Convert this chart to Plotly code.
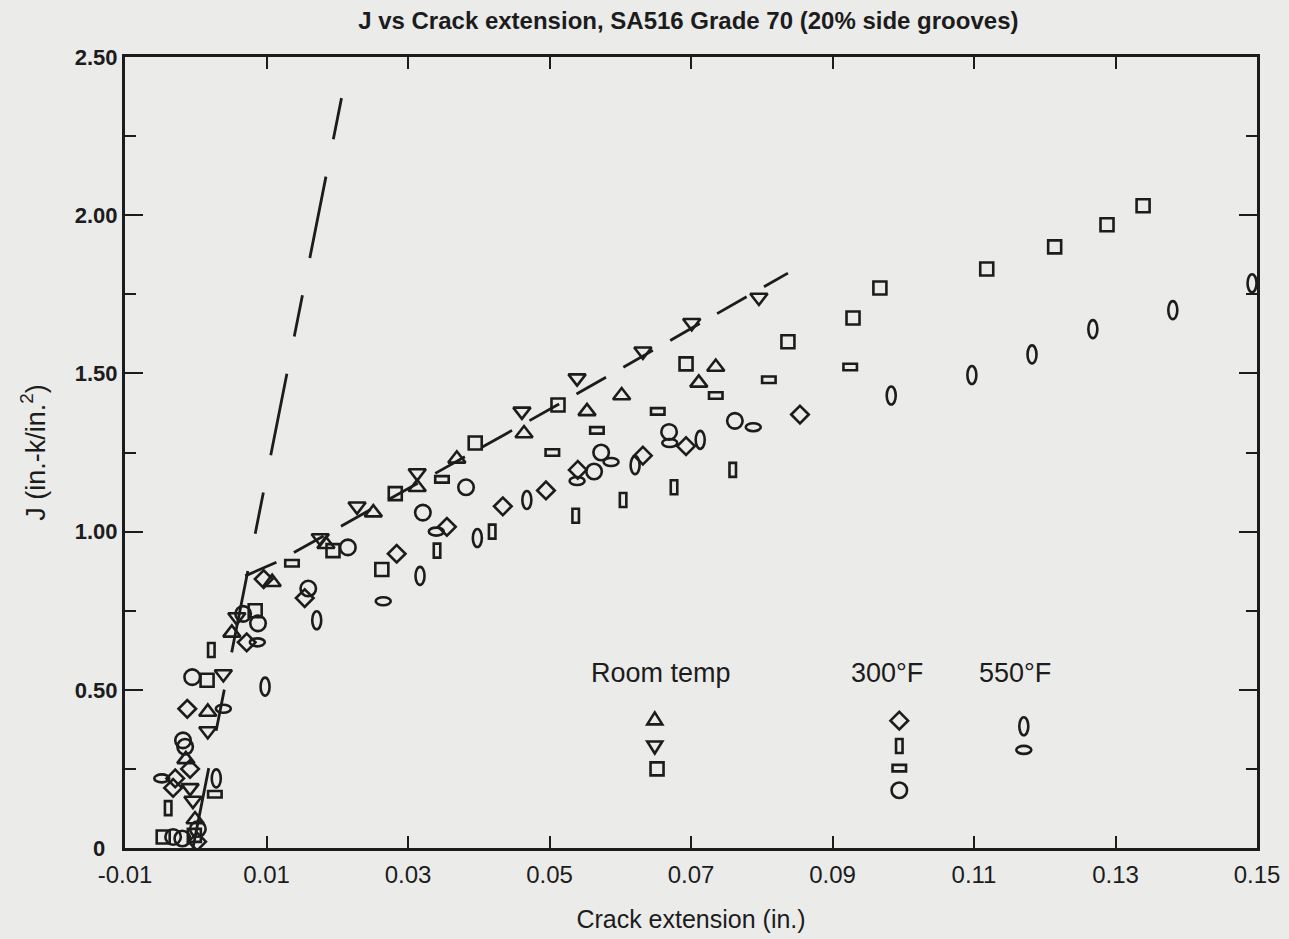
import plotly.graph_objects as go

# ---------------- data: crack extension (in.) and J (in.-k/in.^2) ----------------
# Room temperature
rt_up_x = [-0.0014, -0.0001, 0.0017, 0.0051, 0.0108, 0.0184, 0.0251, 0.0313, 0.0369, 0.0464, 0.0553, 0.0602, 0.0711, 0.0735]
rt_up_j = [0.28, 0.09, 0.43, 0.68, 0.84, 0.96, 1.06, 1.14, 1.23, 1.31, 1.38, 1.43, 1.47, 1.52]

rt_down_x = [-0.0008, -0.0004, 0.0017, 0.0039, 0.0058, 0.0176, 0.0228, 0.0313, 0.0461, 0.0539, 0.0632, 0.0701, 0.0796]
rt_down_j = [0.19, 0.15, 0.37, 0.55, 0.73, 0.98, 1.08, 1.185, 1.38, 1.485, 1.57, 1.66, 1.74]

rt_sq_x = [-0.0046, -0.0002, 0.0016, 0.0084, 0.0194, 0.0263, 0.0282, 0.0395, 0.0512, 0.0693, 0.0837, 0.0929, 0.0967, 0.1118, 0.1214, 0.1288, 0.1339]
rt_sq_j = [0.035, 0.04, 0.53, 0.75, 0.94, 0.88, 1.12, 1.28, 1.40, 1.53, 1.60, 1.675, 1.77, 1.83, 1.90, 1.97, 2.03]

# 300 F
f300_dia_x = [-0.0029, -0.0032, -0.0008, 0.0002, -0.0012, 0.0072, 0.0096, 0.0154, 0.0284, 0.0355, 0.0434, 0.0495, 0.0540, 0.0632, 0.0693, 0.0854]
f300_dia_j = [0.22, 0.19, 0.25, 0.02, 0.44, 0.65, 0.85, 0.79, 0.93, 1.015, 1.08, 1.13, 1.195, 1.24, 1.27, 1.37]

f300_tall_x = [-0.0039, 0.0022, 0.0341, 0.0419, 0.0537, 0.0604, 0.0676, 0.0759]
f300_tall_j = [0.126, 0.626, 0.94, 1.00, 1.05, 1.10, 1.14, 1.195]

f300_flat_x = [0.0027, 0.0136, 0.0348, 0.0504, 0.0567, 0.0653, 0.0735, 0.0810, 0.0925]
f300_flat_j = [0.17, 0.90, 1.165, 1.25, 1.32, 1.38, 1.43, 1.48, 1.52]

f300_circ_x = [-0.0032, -0.0019, 0.0003, -0.0018, -0.0015, -0.0005, 0.0067, 0.0088, 0.0159, 0.0215, 0.0321, 0.0382, 0.0563, 0.0573, 0.0669, 0.0762]
f300_circ_j = [0.035, 0.03, 0.06, 0.34, 0.32, 0.54, 0.74, 0.71, 0.82, 0.95, 1.06, 1.14, 1.19, 1.25, 1.315, 1.35]

# 550 F
f550_vert_x = [0.0029, 0.0098, 0.0171, 0.0317, 0.0398, 0.0468, 0.0621, 0.0713, 0.0983, 0.1097, 0.1182, 0.1268, 0.1381, 0.1493]
f550_vert_j = [0.22, 0.51, 0.72, 0.86, 0.98, 1.10, 1.21, 1.29, 1.43, 1.495, 1.56, 1.64, 1.70, 1.785]

f550_horz_x = [-0.0048, 0.0039, 0.0087, 0.0265, 0.0340, 0.0539, 0.0587, 0.0670, 0.0788]
f550_horz_j = [0.22, 0.44, 0.65, 0.78, 1.00, 1.16, 1.22, 1.28, 1.33]

# blunting line and resistance curve
blunt_x = [0.0206, -0.0004]
blunt_j = [2.37, 0.0]
rcurve_x = [0.0070, 0.0115, 0.0511, 0.0837]
rcurve_j = [0.86, 0.904, 1.40, 1.817]

x_ticks = [-0.01, 0.01, 0.03, 0.05, 0.07, 0.09, 0.11, 0.13, 0.15]
x_tick_text = ["-0.01", "0.01", "0.03", "0.05", "0.07", "0.09", "0.11", "0.13", "0.15"]
y_ticks = [0, 0.5, 1.0, 1.5, 2.0, 2.5]
y_tick_text = ["0\u2007", "0.50", "1.00", "1.50", "2.00", "2.50"]

# ---------------- styling ----------------
INK = "#1c1c1c"
BG = "#ebebea"
FONT = "Liberation Sans, Arial, sans-serif"
LW = 2.6

fig = go.Figure()


def marker_trace(xs, ys, symbol, size):
    return go.Scatter(
        x=xs, y=ys, mode="markers",
        marker=dict(symbol=symbol, size=size, color="rgba(0,0,0,0)",
                    line=dict(color=INK, width=LW)),
        showlegend=False, hoverinfo="skip",
    )


def outline(**kw):
    base = dict(xsizemode="pixel", ysizemode="pixel",
                line=dict(color=INK, width=LW), fillcolor="rgba(0,0,0,0)",
                layer="above")
    base.update(kw)
    return base


# rectangles / ellipses of fixed pixel size anchored at data points
def box_shapes(xs, ys, w, h, kind, xref="x", yref="y"):
    return [outline(type=kind, xref=xref, yref=yref, xanchor=xv, yanchor=yv,
                    x0=-w / 2, x1=w / 2, y0=-h / 2, y1=h / 2)
            for xv, yv in zip(xs, ys)]


def path_shape(xv, yv, path):
    return outline(type="path", xref="paper", yref="paper",
                   xanchor=xv, yanchor=yv, path=path)


# fitted lines
fig.add_trace(go.Scatter(x=blunt_x, y=blunt_j, mode="lines",
                         line=dict(color=INK, width=2.8, dash="42px,38px,83px,38px"),
                         showlegend=False, hoverinfo="skip"))
fig.add_trace(go.Scatter(x=rcurve_x, y=rcurve_j, mode="lines",
                         line=dict(color=INK, width=2.8, dash="34px,20px"),
                         showlegend=False, hoverinfo="skip"))

SZ_TRI, SZ_SQ, SZ_DIA, SZ_CIRC = 15, 13, 13.5, 15.5

fig.add_trace(marker_trace(rt_up_x, rt_up_j, "triangle-up", SZ_TRI))
fig.add_trace(marker_trace(rt_down_x, rt_down_j, "triangle-down", SZ_TRI))
fig.add_trace(marker_trace(rt_sq_x, rt_sq_j, "square", SZ_SQ))
fig.add_trace(marker_trace(f300_dia_x, f300_dia_j, "diamond", SZ_DIA))
fig.add_trace(marker_trace(f300_circ_x, f300_circ_j, "circle", SZ_CIRC))

TALL = (6.5, 14)
FLAT = (13.5, 6.5)
VERT = (9, 18)
HORZ = (15, 8)

shapes = []
shapes += box_shapes(f300_tall_x, f300_tall_j, *TALL, "rect")
shapes += box_shapes(f300_flat_x, f300_flat_j, *FLAT, "rect")
shapes += box_shapes(f550_vert_x, f550_vert_j, *VERT, "circle")
shapes += box_shapes(f550_horz_x, f550_horz_j, *HORZ, "circle")

# ---------------- key (positions as fractions of the plot area) ----------------
key_rt_x = 0.468
key_300_x = 0.684
key_550_x = 0.794
TRI_UP = "M-7.5,-4.5 L7.5,-4.5 L0,7.5 Z"
TRI_DOWN = "M-7.5,4.5 L7.5,4.5 L0,-7.5 Z"
DIAMOND = "M-8.8,0 L0,8.8 L8.8,0 L0,-8.8 Z"
shapes.append(path_shape(key_rt_x, 0.162, TRI_UP))
shapes.append(path_shape(key_rt_x, 0.129, TRI_DOWN))
shapes += box_shapes([key_rt_x + 0.002], [0.100], SZ_SQ, SZ_SQ, "rect", "paper", "paper")
shapes.append(path_shape(key_300_x, 0.161, DIAMOND))
shapes += box_shapes([key_300_x], [0.129], *TALL, "rect", "paper", "paper")
shapes += box_shapes([key_300_x], [0.101], *FLAT, "rect", "paper", "paper")
shapes += box_shapes([key_300_x], [0.073], SZ_CIRC, SZ_CIRC, "circle", "paper", "paper")
shapes += box_shapes([key_550_x], [0.154], *VERT, "circle", "paper", "paper")
shapes += box_shapes([key_550_x], [0.124], *HORZ, "circle", "paper", "paper")

key_font = dict(size=27, color=INK, family=FONT)
annotations = [
    dict(text="Room temp", x=0.4735, y=0.221, xref="paper", yref="paper",
         xanchor="center", yanchor="middle", showarrow=False, font=key_font),
    dict(text="300°F", x=0.673, y=0.221, xref="paper", yref="paper",
         xanchor="center", yanchor="middle", showarrow=False, font=key_font),
    dict(text="550°F", x=0.786, y=0.221, xref="paper", yref="paper",
         xanchor="center", yanchor="middle", showarrow=False, font=key_font),
]

fig.update_layout(
    width=1289, height=939,
    margin=dict(l=125, r=32, t=57, b=91),
    paper_bgcolor=BG, plot_bgcolor=BG,
    font=dict(family=FONT, color=INK),
    title=dict(text="<b>J vs Crack extension, SA516 Grade 70 (20% side grooves)</b>",
               x=0.534, xanchor="center", y=0.978, yanchor="middle",
               font=dict(size=24, color=INK, family=FONT)),
    shapes=shapes,
    annotations=annotations,
    showlegend=False,
    xaxis=dict(
        range=[-0.01, 0.15], tickvals=x_ticks, ticktext=x_tick_text,
        ticks="inside", ticklen=12, tickwidth=2.2, tickcolor=INK,
        showline=True, linewidth=3, linecolor=INK, mirror="allticks",
        showgrid=False, zeroline=False, ticklabelstandoff=3, automargin=False,
        tickfont=dict(size=24, color=INK, family=FONT),
        title=dict(text="Crack extension (in.)", standoff=24,
                   font=dict(size=25, color=INK, family=FONT)),
    ),
    yaxis=dict(
        range=[0, 2.5], tickvals=y_ticks, ticktext=y_tick_text,
        ticks="inside", ticklen=18, tickwidth=2.2, tickcolor=INK,
        minor=dict(ticks="inside", ticklen=11, tickwidth=2, tickcolor=INK,
                   tickvals=[0.25, 0.75, 1.25, 1.75, 2.25]),
        showline=True, linewidth=3, linecolor=INK, mirror="allticks",
        showgrid=False, zeroline=False, automargin=False,
        tickfont=dict(size=22, color=INK, family=FONT, weight="bold"),
        title=dict(text="J (in.-k/in.<sup>2</sup>)", standoff=22,
                   font=dict(size=27, color=INK, family=FONT)),
    ),
)

fig.write_html("out.html")
